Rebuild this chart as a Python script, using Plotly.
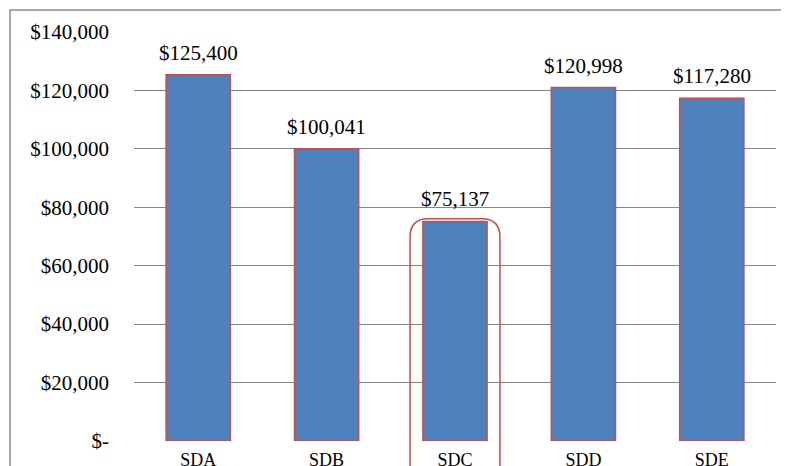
import plotly.graph_objects as go

# data
categories = ["SDA", "SDB", "SDC", "SDD", "SDE"]
salaries = [125400, 100041, 75137, 120998, 117280]
y_ticks = [0, 20000, 40000, 60000, 80000, 100000, 120000, 140000]
y_tick_labels = ["$-", "$20,000", "$40,000", "$60,000", "$80,000",
                 "$100,000", "$120,000", "$140,000"]
highlight = "SDC"

FONT = "Liberation Serif, Times New Roman, serif"
y_max = 140000
n = len(categories)
xs = list(range(n))

fig = go.Figure()
fig.add_trace(go.Bar(
    x=xs, y=salaries, width=0.5,
    marker=dict(color="#4F81BD", line=dict(color="#C0504D", width=1.5)),
    showlegend=False,
))

# data labels above the bars
for x, v in zip(xs, salaries):
    fig.add_annotation(x=x, y=v, text=f"${v:,}", showarrow=False,
                       yanchor="bottom", yshift=8,
                       font=dict(family=FONT, size=21, color="black"))

# rounded highlight around one category (paper coords from axis range)
i = categories.index(highlight)
cx = (i + 0.5) / n
hw = 0.35 / n
x0, x1 = cx - hw, cx + hw
top = (salaries[i] + 900) / y_max
bot = -0.2
rx, ry = 0.14 / n, 0.045
path = (f"M {x0},{bot} L {x0},{top - ry} Q {x0},{top} {x0 + rx},{top} "
        f"L {x1 - rx},{top} Q {x1},{top} {x1},{top - ry} L {x1},{bot}")

# page body has an 8px margin, so the figure is a bit smaller than the window
fig.update_layout(
    width=781, height=458,
    margin=dict(l=126, r=13, t=24, b=25),
    paper_bgcolor="white", plot_bgcolor="white",
    font=dict(family=FONT, size=21, color="black"),
    bargap=0.5,
    xaxis=dict(range=[-0.5, n - 0.5], tickvals=xs, ticktext=categories,
               showgrid=False, zeroline=False, showline=False,
               ticks="", tickfont=dict(size=18), ticklabelstandoff=6,
               automargin=False),
    yaxis=dict(range=[0, y_max], tickvals=y_ticks, ticktext=y_tick_labels,
               showgrid=True, gridcolor="#868686", gridwidth=1,
               zeroline=False, showline=False, ticks="",
               ticklabelstandoff=24, automargin=False),
    shapes=[
        dict(type="rect", xref="paper", yref="paper",
             x0=-124 / 642, x1=1.2, y0=-0.3, y1=(441 - 10) / 409,
             line=dict(color="#8C8C8C", width=1.5), layer="below"),
        dict(type="path", xref="paper", yref="paper", path=path,
             line=dict(color="#C0504D", width=1.5)),
    ],
)

fig.write_html("out.html")
